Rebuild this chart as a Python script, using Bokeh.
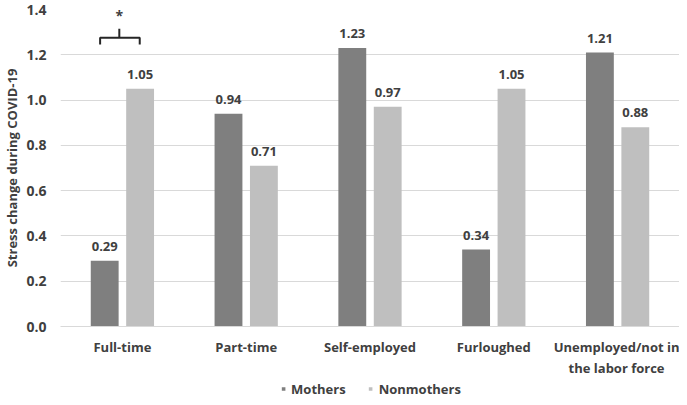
from bokeh.plotting import figure
from bokeh.layouts import column
from bokeh.models import ColumnDataSource, FixedTicker, Legend, LegendItem, Range1d, CustomJSTickFormatter
from bokeh.core.properties import value
from bokeh.embed import file_html
from bokeh.resources import INLINE

categories = ["Full-time", "Part-time", "Self-employed", "Furloughed", "Unemployed/not in\nthe labor force"]
mothers = [0.29, 0.94, 1.23, 0.34, 1.21]
nonmothers = [1.05, 0.71, 0.97, 1.05, 0.88]
y_ticks = [0.0, 0.2, 0.4, 0.6, 0.8, 1.0, 1.2, 1.4]
series_names = ["Mothers", "Nonmothers"]
# significance bracket over the first category
sig_category = 0
sig_level = 1.275
sig_mark = "*"

FONT = "Open Sans"
TXT = "#404040"
C_M = "#7f7f7f"
C_N = "#bfbfbf"
OFF = 0.143
W = 0.225

x = list(range(len(categories)))
xm = [i - OFF for i in x]
xn = [i + OFF for i in x]

src_m = ColumnDataSource(dict(x=xm, top=mothers, lab=[f"{v:.2f}" for v in mothers]))
src_n = ColumnDataSource(dict(x=xn, top=nonmothers, lab=[f"{v:.2f}" for v in nonmothers]))

p = figure(width=679, height=380, output_backend="svg", toolbar_location=None,
           x_range=Range1d(-0.5, len(categories) - 0.5), y_range=Range1d(0, 1.4),
           min_border_left=0, min_border_right=0, min_border_top=9, min_border_bottom=46)
p.outline_line_color = None
p.background_fill_color = "white"
p.border_fill_color = "white"

rm = p.vbar(x="x", top="top", width=W, source=src_m, fill_color=C_M, line_color=None)
rn = p.vbar(x="x", top="top", width=W, source=src_n, fill_color=C_N, line_color=None)

for src in (src_m, src_n):
    p.text(x="x", y="top", text="lab", source=src, text_align="center", text_baseline="bottom",
           y_offset=-10, text_font=value(FONT), text_font_style="bold", text_font_size="13px",
           text_color=TXT)

# bracket
bx0 = sig_category - 0.18
bx1 = sig_category + 0.14
bxc = sig_category - 0.025
p.multi_line(xs=[[bx0, bx0, bx1, bx1], [bxc, bxc]],
             ys=[[sig_level - 0.03, sig_level, sig_level, sig_level - 0.03], [sig_level, sig_level + 0.04]],
             line_color="#262626", line_width=2)
p.text(x=[bxc], y=[sig_level + 0.055], text=[sig_mark], text_align="center", text_baseline="bottom",
       text_font=value(FONT), text_font_style="bold", text_font_size="14px", text_color=TXT)

p.xgrid.grid_line_color = None
p.ygrid.grid_line_color = "#d9d9d9"
p.ygrid.ticker = FixedTicker(ticks=y_ticks)

p.yaxis.ticker = FixedTicker(ticks=y_ticks)
p.yaxis.formatter = CustomJSTickFormatter(code="return tick.toFixed(1);")
p.yaxis.axis_line_color = None
p.yaxis.major_tick_line_color = None
p.yaxis.minor_tick_line_color = None
p.yaxis.major_label_text_font = FONT
p.yaxis.major_label_text_font_style = "bold"
p.yaxis.major_label_text_font_size = "14px"
p.yaxis.major_label_text_color = TXT
p.yaxis.major_label_standoff = 8
p.yaxis.axis_label = "Stress change during COVID-19"
p.yaxis.axis_label_text_font = FONT
p.yaxis.axis_label_text_font_style = "bold"
p.yaxis.axis_label_text_font_size = "13px"
p.yaxis.axis_label_text_color = TXT
p.yaxis.axis_label_standoff = 2

p.xaxis.ticker = FixedTicker(ticks=x)
p.xaxis.major_label_overrides = {i: c for i, c in enumerate(categories)}
p.xaxis.axis_line_color = "#d9d9d9"
p.xaxis.major_tick_line_color = None
p.xaxis.minor_tick_line_color = None
p.xaxis.major_label_text_font = FONT
p.xaxis.major_label_text_font_style = "bold"
p.xaxis.major_label_text_font_size = "13px"
p.xaxis.major_label_text_color = TXT
p.xaxis.major_label_standoff = 5

# legend in its own strip below the chart
pl = figure(width=679, height=17, output_backend="svg", toolbar_location=None,
            x_range=Range1d(0, 1), y_range=Range1d(0, 1),
            min_border_left=0, min_border_right=0, min_border_top=0, min_border_bottom=0)
pl.axis.visible = False
pl.grid.visible = False
pl.outline_line_color = None
lm = pl.square(x=[-5], y=[-5], size=9, fill_color=C_M, line_color=None)
ln = pl.square(x=[-5], y=[-5], size=9, fill_color=C_N, line_color=None)
legend = Legend(items=[LegendItem(label=series_names[0], renderers=[lm]),
                       LegendItem(label=series_names[1], renderers=[ln])],
                orientation="horizontal", location="center",
                label_text_font=FONT, label_text_font_style="bold", label_text_font_size="13px",
                label_text_color=TXT, glyph_width=9, glyph_height=9, spacing=20,
                label_height=14, border_line_color=None, background_fill_alpha=0, padding=0, margin=0,
                label_standoff=4)
pl.add_layout(legend)

open("out.html", "w").write(file_html(column(p, pl, spacing=0), INLINE))
